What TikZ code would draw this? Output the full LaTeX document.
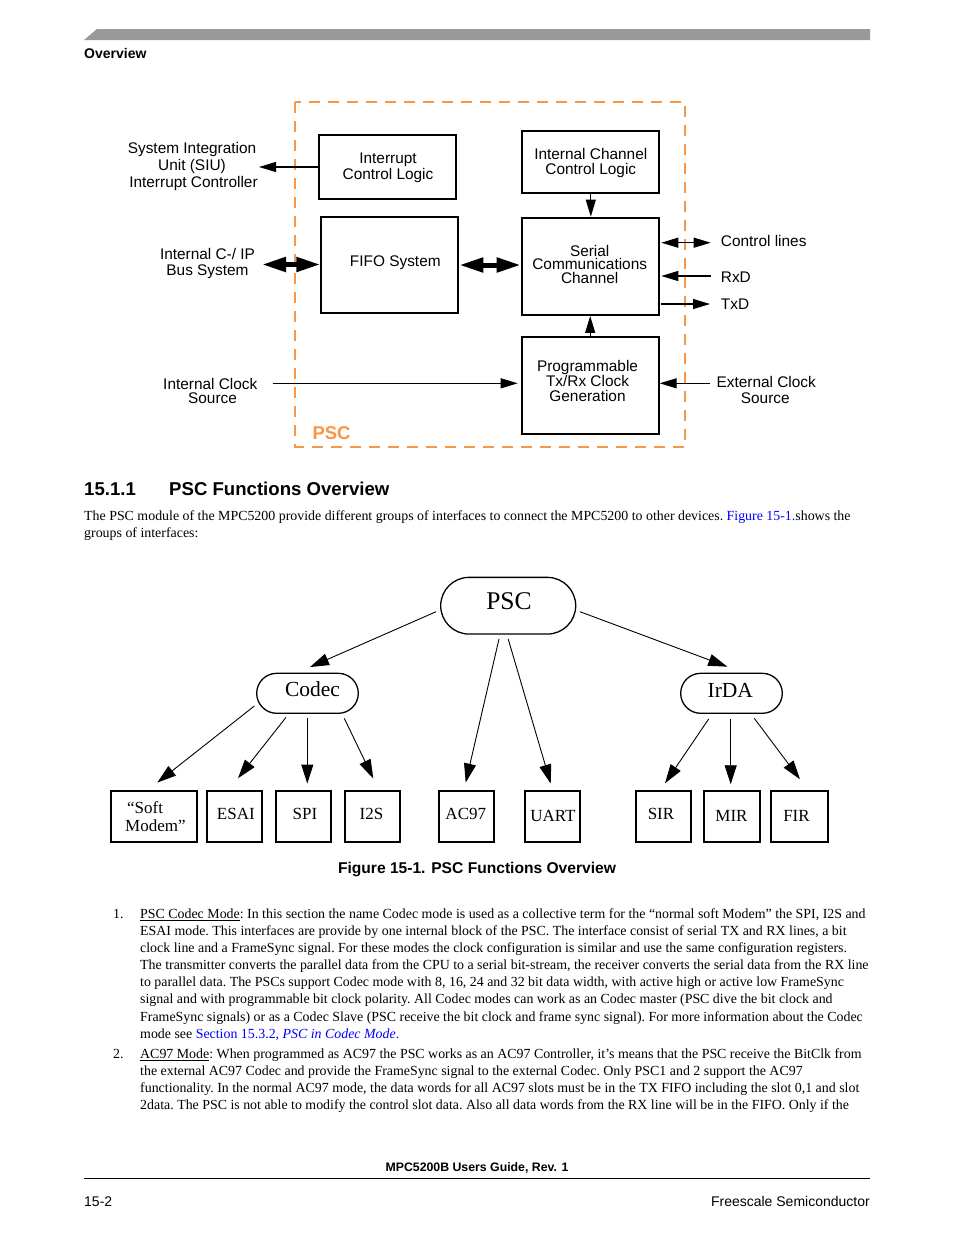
\documentclass[tikz,border=0pt]{standalone}
\usepackage{fontspec}
\setmainfont{Liberation Serif}
\setsansfont{Liberation Sans}
\usetikzlibrary{arrows.meta,calc,shapes.misc}
\definecolor{pscorange}{RGB}{247,150,70}
\definecolor{linkblue}{RGB}{0,0,255}
\definecolor{bargray}{RGB}{153,153,153}
\newcommand\tdfont{\sffamily\fontsize{15.4}{16}\selectfont}
\newcommand\bodyfont{\rmfamily\fontsize{13.9}{17}\selectfont\frenchspacing}
\newcommand\boxfont{\rmfamily\fontsize{17}{18}\selectfont}
\begin{document}
\begin{tikzpicture}[x=1pt,y=-1pt,
  tbox/.style={draw, line width=2pt, inner sep=0pt},
  tlab/.style={font=\tdfont, inner sep=0pt, anchor=base},
  tarrow/.style={-{Triangle[length=17pt,width=10pt]}, line width=1.1pt},
  tdarrow/.style={{Triangle[length=17pt,width=10pt]}-{Triangle[length=17pt,width=10pt]}, line width=1.1pt},
  darrow/.style={{Triangle[length=24pt,width=14pt]}-{Triangle[length=24pt,width=14pt]}, line width=5pt},
  stad/.style={rounded rectangle, draw, line width=1.3pt, inner sep=0pt, minimum height=40pt, minimum width=101.6pt},
  ibox/.style={draw, line width=1.5pt, inner sep=0pt, minimum height=51pt, minimum width=55pt},
  blab/.style={font=\boxfont, inner sep=0pt, anchor=base},
  barrow/.style={-{Triangle[length=19pt,width=12pt]}, line width=0.9pt},
  bl/.style={font=\bodyfont, inner sep=0pt, anchor=base west},
  hbold/.style={font=\sffamily\bfseries, inner sep=0pt}]
\useasboundingbox (0,0) rectangle (954,1235);
\fill[white] (0,0) rectangle (954,1235);

% header bar
\fill[bargray] (84,40) -- (97,29) -- (870,29) -- (870,40) -- cycle;
\node[hbold, anchor=base west, font=\sffamily\bfseries\fontsize{14}{16}\selectfont] (hdr) at (84,58) {Overview};

% ---------- top block diagram ----------
\draw[pscorange, line width=2pt, dash pattern=on 11pt off 8pt] (295,102.3) rectangle (685.3,446.7);
\node[anchor=base west, inner sep=0pt, text=pscorange, font=\sffamily\bfseries\fontsize{18.5}{20}\selectfont] (psclab) at (312.3,439) {PSC};

\node[tbox, minimum width=137pt, minimum height=64pt] (icl) at (387.7,167) {};
\node[tlab] (icl1) at (388,163.3) {Interrupt};
\node[tlab] (icl2) at (388,179.3) {Control Logic};

\node[tbox, minimum width=137pt, minimum height=62.6pt] (icc) at (590.8,162) {};
\node[tlab] (icc1) at (590.8,159) {Internal Channel};
\node[tlab] (icc2) at (590.8,174.5) {Control Logic};

\node[tbox, minimum width=137pt, minimum height=96.6pt] (fifo) at (389.8,265) {};
\node[tlab] (fifo1) at (395.3,266.7) {FIFO System};

\node[tbox, minimum width=137pt, minimum height=97.3pt] (scc) at (590.2,266.3) {};
\node[tlab] (scc1) at (589.7,256) {Serial};
\node[tlab] (scc2) at (589.7,269.7) {Communications};
\node[tlab] (scc3) at (589.7,283) {Channel};

\node[tbox, minimum width=137pt, minimum height=97.6pt] (prog) at (590.2,385.5) {};
\node[tlab] (prog1) at (587.5,371) {Programmable};
\node[tlab] (prog2) at (587.5,386.7) {Tx/Rx Clock};
\node[tlab] (prog3) at (587.5,401.7) {Generation};

% outside labels
\node[tlab] (siu1) at (192,153.5) {System Integration};
\node[tlab] (siu2) at (192,170) {Unit (SIU)};
\node[tlab] (siu3) at (193.5,187.7) {Interrupt Controller};
\node[tlab] (bus1) at (207.5,259.3) {Internal C-/ IP};
\node[tlab] (bus2) at (207.5,275) {Bus System};
\node[tlab] (ick1) at (210.3,389) {Internal Clock};
\node[tlab] (ick2) at (212.5,403.3) {Source};
\node[tlab, anchor=base west] (ctl) at (720.7,246.7) {Control lines};
\node[tlab, anchor=base west] (rxd) at (720.7,282.3) {RxD};
\node[tlab, anchor=base west] (txd) at (720.7,309) {TxD};
\node[tlab] (eck1) at (766.2,387.7) {External Clock};
\node[tlab] (eck2) at (765.3,403.3) {Source};

% connector end points
\coordinate (siuE) at (259,167);
\coordinate (busE) at (262,264.5);
\coordinate (ctlE) at (710.7,242.7);
\coordinate (rxdE) at (710.7,276);
\coordinate (txdE) at (710,304);
\coordinate (iclkW) at (272.7,383.3);
\coordinate (eclkE) at (710,383.3);

\draw[tarrow] (icl.west) -- (siuE);
\draw[darrow] (busE) -- (fifo.west |- busE);
\draw[darrow] (fifo.east) -- (fifo.east -| scc.west);
\draw[tarrow] (icc.south) -- (icc.south |- scc.north);
\draw[tarrow] (prog.north) -- (scc.south);
\draw[tdarrow] ([xshift=1.6pt]scc.east |- ctlE) -- (ctlE);
\draw[tarrow] (rxdE) -- ([xshift=1.6pt]scc.east |- rxdE);
\draw[tarrow] ([xshift=1.6pt]scc.east |- txdE) -- (txdE);
\draw[tarrow, shorten >=3pt] (iclkW) -- (prog.west |- iclkW);
\draw[tarrow] (eclkE) -- (prog.east |- eclkE);

% ---------- heading and paragraph ----------
\node[hbold, anchor=base west, font=\sffamily\bfseries\fontsize{18.6}{20}\selectfont] (secnum) at (84,495.5) {15.1.1};
\node[hbold, anchor=base west, font=\sffamily\bfseries\fontsize{18.6}{20}\selectfont] (sectitle) at (169,495.5) {PSC Functions Overview};
\node[bl] (p1) at (84,520.5) {The PSC module of the MPC5200 provide different groups of interfaces to connect the MPC5200 to other devices. {\color{linkblue}Figure 15-1.}shows the};
\node[bl] (p2) at (84,537.5) {groups of interfaces:};

% ---------- functions tree ----------
\node[rounded rectangle, draw, line width=1.3pt, inner sep=0pt, minimum width=135pt, minimum height=56.7pt] (psc) at (508.2,605.7) {};
\node[inner sep=0pt, anchor=base, font=\rmfamily\fontsize{25.5}{26}\selectfont] (psct) at (509,609) {PSC};
\node[stad] (codec) at (307.5,693.3) {};
\node[inner sep=0pt, anchor=base, font=\rmfamily\fontsize{21.5}{22}\selectfont] (codect) at (312.5,696.5) {Codec};
\node[stad] (irda) at (731.5,693.3) {};
\node[inner sep=0pt, anchor=base, font=\rmfamily\fontsize{21.5}{22}\selectfont] (irdat) at (730.3,697) {IrDA};

\node[ibox, minimum width=86pt] (soft) at (154,816.5) {};
\node[ibox] (esai) at (234.5,816.5) {};
\node[ibox] (spi) at (303.5,816.5) {};
\node[ibox] (i2s) at (372.5,816.5) {};
\node[ibox] (ac97) at (466.5,816.5) {};
\node[ibox] (uart) at (552.5,816.5) {};
\node[ibox] (sir) at (663.5,816.5) {};
\node[ibox, minimum width=56pt] (mir) at (732,816.5) {};
\node[ibox, minimum width=57pt] (fir) at (799.5,816.5) {};

\node[blab, anchor=base west] (softt1) at (127,813.5) {“Soft};
\node[blab, anchor=base west] (softt2) at (125,831) {Modem”};
\node[blab] (esait) at (235.8,819) {ESAI};
\node[blab] (spit) at (305,819) {SPI};
\node[blab] (i2st) at (371.5,819) {I2S};
\node[blab] (ac97t) at (465.8,819) {AC97};
\node[blab] (uartt) at (553,821) {UART};
\node[blab] (sirt) at (661,819) {SIR};
\node[blab] (mirt) at (731.5,821) {MIR};
\node[blab] (firt) at (796.5,821) {FIR};

\draw[barrow] ($(psc.west)+(-4,6)$) -- ($(codec.north)+(2.5,-5.6)$);
\draw[barrow] ($(psc.east)+(3.6,6)$) -- ($(irda.north)+(-4.2,-6)$);
\draw[barrow] ($(psc.south)+(-9.2,4.3)$) -- ($(ac97.north)+(-0.8,-7.7)$);
\draw[barrow] ($(psc.south)+(0,4.3)$) -- ($(uart.north)+(-1.8,-6.7)$);
\draw[barrow] ($(codec.west)+(-1.7,12.7)$) -- ($(soft.north)+(3.3,-7.7)$);
\draw[barrow] ($(codec.south)+(-21.5,3.4)$) -- ($(esai.north)+(3.5,-12)$);
\draw[barrow] ($(codec.south)+(-0.2,4.4)$) -- ($(spi.north)+(3.8,-6.7)$);
\draw[barrow] ($(codec.south)+(36.8,4.4)$) -- ($(i2s.north)+(0.8,-11.7)$);
\draw[barrow] ($(irda.south)+(-22.8,5)$) -- ($(sir.north)+(1.5,-7)$);
\draw[barrow] ($(irda.south)+(-0.8,5)$) -- ($(mir.north)+(-1.3,-6)$);
\draw[barrow] ($(irda.south)+(22.8,4.4)$) -- ($(fir.north)+(0.5,-11)$);

\node[hbold, anchor=base, font=\sffamily\bfseries\fontsize{15.6}{17}\selectfont] (cap) at (477,873) {Figure 15-1. PSC Functions Overview};

% ---------- list ----------
\node[bl] (n1) at (113,918.5) {1.};
\node[bl] (l1a) at (140,918.5) {\underline{PSC Codec Mode}: In this section the name Codec mode is used as a collective term for the “normal soft Modem” the SPI, I2S and};
\node[bl] (l1b) at (140,935.5) {ESAI mode. This interfaces are provide by one internal block of the PSC. The interface consist of serial TX and RX lines, a bit};
\node[bl] (l1c) at (140,952.5) {clock line and a FrameSync signal. For these modes the clock configuration is similar and use the same configuration registers.};
\node[bl] (l1d) at (140,969.5) {The transmitter converts the parallel data from the CPU to a serial bit-stream, the receiver converts the serial data from the RX line};
\node[bl] (l1e) at (140,986.5) {to parallel data. The PSCs support Codec mode with 8, 16, 24 and 32 bit data width, with active high or active low FrameSync};
\node[bl] (l1f) at (140,1003.5) {signal and with programmable bit clock polarity. All Codec modes can work as an Codec master (PSC dive the bit clock and};
\node[bl] (l1g) at (140,1021) {FrameSync signals) or as a Codec Slave (PSC receive the bit clock and frame sync signal). For more information about the Codec};
\node[bl] (l1h) at (140,1038.5) {mode see {\color{linkblue}Section 15.3.2, \textit{PSC in Codec Mode}.}};
\node[bl] (n2) at (113,1058.5) {2.};
\node[bl] (l2a) at (140,1058.5) {\underline{AC97 Mode}: When programmed as AC97 the PSC works as an AC97 Controller, it’s means that the PSC receive the BitClk from};
\node[bl] (l2b) at (140,1075.5) {the external AC97 Codec and provide the FrameSync signal to the external Codec. Only PSC1 and 2 support the AC97};
\node[bl] (l2c) at (140,1092.5) {functionality. In the normal AC97 mode, the data words for all AC97 slots must be in the TX FIFO including the slot 0,1 and slot};
\node[bl] (l2d) at (140,1109.5) {2data. The PSC is not able to modify the control slot data. Also all data words from the RX line will be in the FIFO. Only if the};

% ---------- footer ----------
\node[hbold, anchor=base, font=\sffamily\bfseries\fontsize{12.3}{14}\selectfont] (foot) at (477,1171.5) {MPC5200B Users Guide, Rev. 1};
\coordinate (rl) at (84,1178);
\coordinate (rr) at (870,1178);
\draw[line width=1pt] (rl) -- (rr);
\node[inner sep=0pt, anchor=base west, font=\sffamily\fontsize{14}{16}\selectfont] (pg) at (84,1206) {15-2};
\node[inner sep=0pt, anchor=base east, font=\sffamily\fontsize{14}{16}\selectfont] (fs) at (870,1206) {Freescale Semiconductor};
\end{tikzpicture}
\end{document}
